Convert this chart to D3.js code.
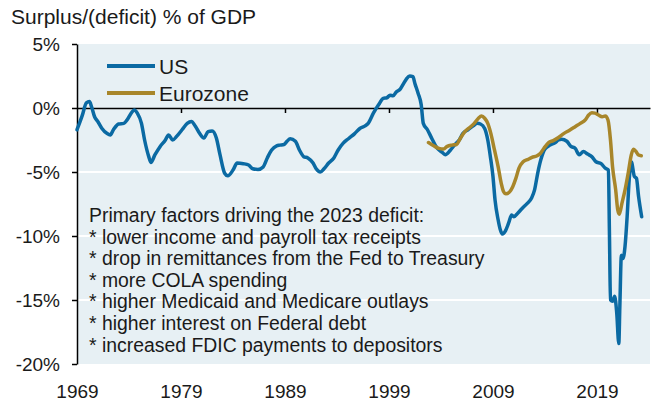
<!DOCTYPE html>
<html>
<head>
<meta charset="utf-8">
<script src="https://cdn.jsdelivr.net/npm/d3@7/dist/d3.min.js"></script>
<style>
  html, body { margin: 0; padding: 0; background: #fff; }
  svg text { font-family: "Liberation Sans", Arial, sans-serif; fill: #1a1a1a; }
</style>
</head>
<body>
<svg id="chart" width="658" height="402"></svg>
<script>
// ---- data ----
const usYears = [1969.0,1969.5,1969.9,1970.2,1970.4,1970.7,1971.0,1971.4,1971.9,1972.2,1972.5,1973.0,1973.5,1973.8,1974.3,1974.5,1974.8,1975.2,1975.5,1975.9,1976.1,1976.5,1977.0,1977.5,1977.8,1978.2,1978.6,1979.1,1979.6,1980.0,1980.4,1980.8,1981.2,1981.6,1982.0,1982.4,1982.75,1983.2,1983.5,1984.0,1984.4,1985.0,1985.5,1985.9,1986.4,1986.9,1987.3,1987.7,1988.2,1988.5,1988.9,1989.2,1989.5,1990.0,1990.4,1990.8,1991.2,1991.7,1992.0,1992.4,1992.75,1993.2,1993.7,1994.1,1994.6,1995.1,1995.7,1996.2,1996.7,1997.0,1997.5,1998.0,1998.45,1998.8,1999.1,1999.4,1999.7,2000.1,2000.4,2000.7,2001.0,2001.3,2001.5,2001.8,2002.1,2002.3,2002.7,2003.1,2003.6,2004.1,2004.4,2004.9,2005.3,2005.8,2006.1,2006.6,2007.1,2007.5,2007.8,2008.2,2008.5,2008.75,2009.0,2009.2,2009.5,2009.7,2009.9,2010.2,2010.5,2010.8,2011.0,2011.4,2011.8,2012.3,2012.7,2013.0,2013.3,2013.6,2014.0,2014.5,2015.0,2015.3,2015.6,2016.1,2016.5,2016.9,2017.3,2017.7,2018.1,2018.5,2018.9,2019.4,2019.8,2020.1,2020.2,2020.3,2020.5,2020.7,2020.9,2021.1,2021.2,2021.35,2021.5,2021.7,2021.9,2022.1,2022.3,2022.6,2022.8,2023.0,2023.3];
const usValues = [-1.7,-0.6,0.4,0.5,0.1,-0.7,-1.05,-1.6,-2.0,-2.1,-1.7,-1.25,-1.2,-0.95,-0.3,-0.15,-0.4,-1.2,-2.5,-3.8,-4.25,-3.65,-3.0,-2.5,-2.1,-2.5,-2.2,-1.7,-1.2,-1.05,-1.45,-2.0,-2.35,-1.85,-1.8,-2.35,-3.65,-5.1,-5.3,-4.85,-4.3,-4.35,-4.45,-4.75,-4.8,-4.6,-3.9,-3.3,-2.95,-2.9,-2.85,-2.6,-2.4,-2.6,-3.3,-3.8,-3.9,-4.3,-4.75,-5.0,-4.75,-4.3,-3.9,-3.3,-2.75,-2.4,-2.0,-1.6,-1.4,-1.2,-0.4,0.25,0.75,0.8,1.0,0.95,1.25,1.5,1.9,2.3,2.5,2.45,1.9,1.15,0.25,-1.2,-1.7,-2.35,-3.1,-3.45,-3.65,-3.3,-2.9,-2.45,-2.0,-1.7,-1.4,-1.2,-1.25,-1.6,-2.5,-3.8,-5.35,-7.2,-8.75,-9.5,-9.85,-9.6,-9.0,-8.35,-8.5,-8.2,-7.85,-7.45,-7.05,-6.4,-5.1,-4.05,-3.2,-2.9,-2.7,-2.5,-2.45,-2.6,-3.0,-3.15,-3.65,-3.4,-3.6,-3.8,-4.2,-4.35,-4.7,-4.85,-9.8,-15.0,-15.1,-14.7,-16.0,-18.4,-15.5,-11.5,-11.75,-10.8,-8.5,-5.6,-4.2,-5.35,-5.5,-6.9,-8.5];

const ezYears = [2002.8,2003.3,2003.8,2004.25,2004.6,2005.05,2005.5,2005.86,2006.3,2006.8,2007.2,2007.6,2007.9,2008.2,2008.5,2008.8,2009.15,2009.5,2009.8,2010.0,2010.25,2010.6,2010.9,2011.2,2011.5,2011.9,2012.4,2012.75,2013.2,2013.55,2013.9,2014.35,2014.8,2015.3,2015.8,2016.4,2016.9,2017.4,2017.9,2018.2,2018.5,2018.8,2019.15,2019.5,2019.8,2020.06,2020.3,2020.5,2020.8,2021.0,2021.15,2021.4,2021.7,2022.0,2022.3,2022.5,2022.75,2023.0,2023.26];
const ezValues = [-2.7,-2.95,-3.15,-3.2,-3.0,-2.9,-2.85,-2.37,-1.85,-1.5,-1.2,-0.8,-0.63,-0.8,-1.2,-2.0,-3.3,-4.6,-5.9,-6.5,-6.7,-6.55,-6.15,-5.5,-4.7,-4.2,-4.0,-3.85,-3.75,-3.55,-3.15,-2.7,-2.55,-2.3,-2.0,-1.72,-1.46,-1.2,-0.9,-0.55,-0.37,-0.4,-0.55,-0.68,-0.63,-0.94,-2.5,-4.6,-6.4,-7.97,-8.3,-7.45,-6.4,-5.1,-3.67,-3.23,-3.4,-3.67,-3.73];

const yTicks = [5, 0, -5, -10, -15, -20];
const gridValues = [-5, -10, -15];
const xTickYears = [1969, 1979, 1989, 1999, 2009, 2019];
const seriesNames = ["US", "Eurozone"];
const seriesColors = ["#0b6aa3", "#a8862a"];
const titleText = "Surplus/(deficit) % of GDP";
const noteLines = [
  "Primary factors driving the 2023 deficit:",
  "* lower income and payroll tax receipts",
  "* drop in remittances from the Fed to Treasury",
  "* more COLA spending",
  "* higher Medicaid and Medicare outlays",
  "* higher interest on Federal debt",
  "* increased FDIC payments to depositors"
];

// ---- layout ----
const svg = d3.select("#chart");
const plotLeft = 77, plotRight = 650, plotTop = 44, plotBottom = 364;
const x = d3.scaleLinear().domain([1969, 2024.1]).range([plotLeft, plotRight]);
const y = d3.scaleLinear().domain([-20, 5]).range([plotBottom, plotTop]);

// background
svg.append("rect").attr("x", plotLeft).attr("y", plotTop)
  .attr("width", plotRight - plotLeft).attr("height", plotBottom - plotTop)
  .attr("fill", "#e7f0f4");

// gridlines
svg.append("g").selectAll("line").data(gridValues).join("line")
  .attr("x1", plotLeft).attr("x2", plotRight)
  .attr("y1", d => y(d)).attr("y2", d => y(d))
  .attr("stroke", "#ffffff").attr("stroke-width", 2);

// title
svg.append("text").attr("x", 11).attr("y", 24)
  .style("font-size", "21px").text(titleText);

// y axis
const yAxis = svg.append("g").attr("transform", `translate(${plotLeft},0)`)
  .call(d3.axisLeft(y).tickValues(yTicks).tickFormat(d => d + "%")
    .tickSize(5).tickSizeOuter(0).tickPadding(12));
yAxis.select(".domain").attr("stroke", "#000").attr("stroke-width", 1.5);
yAxis.selectAll(".tick line").attr("stroke", "#000").attr("stroke-width", 1.5);
yAxis.selectAll("text").style("font-size", "19px").attr("fill", "#1a1a1a");

// zero line with tick marks
const zeroAxis = svg.append("g").attr("transform", `translate(0,${y(0)})`)
  .call(d3.axisBottom(x).tickValues(xTickYears.slice(1)).tickFormat("")
    .tickSize(5).tickSizeOuter(0));
zeroAxis.select(".domain").attr("stroke", "#000").attr("stroke-width", 1.5);
zeroAxis.selectAll(".tick line").attr("stroke", "#000").attr("stroke-width", 1.5);

// x labels
const xAxis = svg.append("g").attr("transform", `translate(0,${plotBottom})`)
  .call(d3.axisBottom(x).tickValues(xTickYears).tickFormat(d3.format("d"))
    .tickSize(0).tickPadding(20.5));
xAxis.select(".domain").remove();
xAxis.selectAll("text").style("font-size", "19px").attr("fill", "#1a1a1a");

// lines
const line = d3.line().x(d => x(d[0])).y(d => y(d[1])).curve(d3.curveMonotoneX);
const usData = d3.zip(usYears, usValues);
const ezData = d3.zip(ezYears, ezValues);
[usData, ezData].forEach((data, i) => {
  svg.append("path").datum(data)
    .attr("fill", "none").attr("stroke", seriesColors[i])
    .attr("stroke-width", 3.5).attr("stroke-linejoin", "round")
    .attr("stroke-linecap", "round").attr("d", line);
});

// legend
const legend = svg.append("g");
seriesNames.forEach((name, i) => {
  const ly = 66 + i * 27;
  legend.append("line").attr("x1", 107).attr("x2", 155)
    .attr("y1", ly).attr("y2", ly)
    .attr("stroke", seriesColors[i]).attr("stroke-width", 4);
  legend.append("text").attr("x", 159).attr("y", ly).attr("dy", "0.36em")
    .style("font-size", "21px").text(name);
});

// annotation
const note = svg.append("g");
noteLines.forEach((t, i) => {
  note.append("text").attr("x", 89).attr("y", 222 + i * 21.6)
    .style("font-size", "19.4px").text(t);
});
</script>
</body>
</html>
